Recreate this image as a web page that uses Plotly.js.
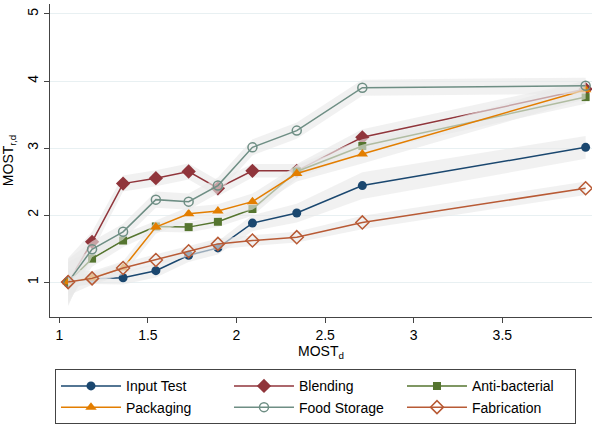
<!DOCTYPE html>
<html>
<head>
<meta charset="utf-8">
<script src="https://cdn.plot.ly/plotly-3.0.1.min.js"></script>
<style>
  html, body { margin: 0; padding: 0; background: #fff; }
  #chart { width: 594px; height: 425px; }
</style>
</head>
<body>
<div id="chart"></div>
<script>
// MOST_d values shared by every series
const mostD = [1.05, 1.185, 1.36, 1.545, 1.73, 1.895, 2.09, 2.34, 2.71, 3.97];

// Series names, in legend order
const seriesNames = ["Input Test", "Blending", "Anti-bacterial", "Packaging", "Food Storage", "Fabrication"];

// MOST_r,d means per series
const inputTest     = [1.00, 1.05, 1.065, 1.17, 1.40, 1.51, 1.88, 2.03, 2.44, 3.01];
const blending      = [1.00, 1.60, 2.47, 2.55, 2.65, 2.40, 2.66, 2.66, 3.16, 3.88];
const antiBacterial = [1.00, 1.35, 1.62, 1.83, 1.82, 1.90, 2.09, 2.65, 3.03, 3.76];
const packaging     = [1.00, 1.06, 1.21, 1.82, 2.02, 2.06, 2.20, 2.62, 2.91, 3.87];
const foodStorage   = [1.00, 1.49, 1.75, 2.23, 2.20, 2.44, 3.01, 3.26, 3.90, 3.93];
const fabrication   = [1.00, 1.055, 1.21, 1.33, 1.46, 1.57, 1.62, 1.67, 1.89, 2.40];

// Half-widths of the confidence bands
const ciInputTest     = [0.08, 0.08, 0.10, 0.10, 0.10, 0.10, 0.12, 0.14, 0.20, 0.17];
const ciBlending      = [0.36, 0.15, 0.12, 0.12, 0.12, 0.12, 0.10, 0.10, 0.12, 0.12];
const ciAntiBacterial = [0.30, 0.12, 0.10, 0.08, 0.08, 0.08, 0.10, 0.10, 0.10, 0.10];
const ciPackaging     = [0.20, 0.10, 0.10, 0.10, 0.10, 0.10, 0.12, 0.12, 0.14, 0.14];
const ciFoodStorage   = [0.34, 0.12, 0.12, 0.12, 0.12, 0.12, 0.12, 0.12, 0.12, 0.12];
const ciFabrication   = [0.08, 0.08, 0.08, 0.08, 0.08, 0.08, 0.08, 0.08, 0.10, 0.10];

// Axis ticks
const xTicks = [1, 1.5, 2, 2.5, 3, 3.5];
const xTickLabels = ["1", "1.5", "2", "2.5", "3", "3.5"];
const yTicks = [1, 2, 3, 4, 5];
const yTickLabels = ["1", "2", "3", "4", "5"];

const values = [inputTest, blending, antiBacterial, packaging, foodStorage, fabrication];
const bands = [ciInputTest, ciBlending, ciAntiBacterial, ciPackaging, ciFoodStorage, ciFabrication];

const styles = [
  { color: "#1a476f", symbol: "circle",       size: 9,  lw: 0 },
  { color: "#90353b", symbol: "diamond",      size: 11, lw: 0 },
  { color: "#55752f", symbol: "square",       size: 8,  lw: 0 },
  { color: "#e37e00", symbol: "triangle-up",  size: 10, lw: 0 },
  { color: "#6e8e84", symbol: "circle-open",  size: 9,  lw: 1.5 },
  { color: "#b85a35", symbol: "diamond-open", size: 10, lw: 1.5 }
];

const traces = [];
values.forEach((ys, i) => {
  const hw = bands[i];
  const upper = ys.map((v, k) => v + hw[k]);
  const lower = ys.map((v, k) => v - hw[k]);
  // shaded band for this series, drawn just before its line
  traces.push({
    type: "scatter",
    mode: "lines",
    x: mostD.concat(mostD.slice().reverse()),
    y: upper.concat(lower.slice().reverse()),
    fill: "toself",
    fillcolor: "rgba(232,232,232,0.62)",
    line: { width: 0 },
    hoverinfo: "skip",
    showlegend: false
  });
  const s = styles[i];
  traces.push({
    type: "scatter",
    mode: "lines+markers",
    name: seriesNames[i],
    x: mostD,
    y: ys,
    line: { color: s.color, width: 1.5 },
    marker: { color: s.color, symbol: s.symbol, size: s.size, line: { color: s.color, width: s.lw } }
  });
});

const layout = {
  width: 594,
  height: 425,
  margin: { l: 50, r: 2, t: 4, b: 107 },
  paper_bgcolor: "#ffffff",
  plot_bgcolor: "#ffffff",
  font: { family: "Liberation Sans, Arial, sans-serif", size: 14, color: "#000" },
  showlegend: true,
  xaxis: {
    range: [0.9476, 4.006],
    tickvals: xTicks,
    ticktext: xTickLabels,
    ticks: "outside",
    ticklen: 5,
    tickcolor: "#444",
    showline: true,
    linecolor: "#444",
    linewidth: 1.2,
    showgrid: false,
    zeroline: false,
    tickfont: { size: 14 },
    title: { text: "MOST<sub>d</sub>", font: { size: 14 }, standoff: 2 }
  },
  yaxis: {
    range: [0.479, 5.149],
    tickvals: yTicks,
    ticktext: yTickLabels,
    tickangle: -90,
    ticks: "outside",
    ticklen: 5,
    tickcolor: "#444",
    showline: true,
    linecolor: "#444",
    linewidth: 1.2,
    showgrid: true,
    gridcolor: "#e8f0f2",
    gridwidth: 1,
    zeroline: false,
    tickfont: { size: 14 },
    title: { text: "MOST<sub>r,d</sub>", font: { size: 14 }, standoff: 8 }
  },
  legend: {
    orientation: "h",
    x: 0.0092,
    xanchor: "left",
    y: -0.1635,
    yanchor: "top",
    bgcolor: "#ffffff",
    bordercolor: "#444",
    borderwidth: 1,
    itemwidth: 60,
    entrywidth: 98,
    entrywidthmode: "pixels",
    traceorder: "normal",
    font: { size: 14 }
  }
};

Plotly.newPlot("chart", traces, layout, { displayModeBar: false, staticPlot: true });
</script>
</body>
</html>
